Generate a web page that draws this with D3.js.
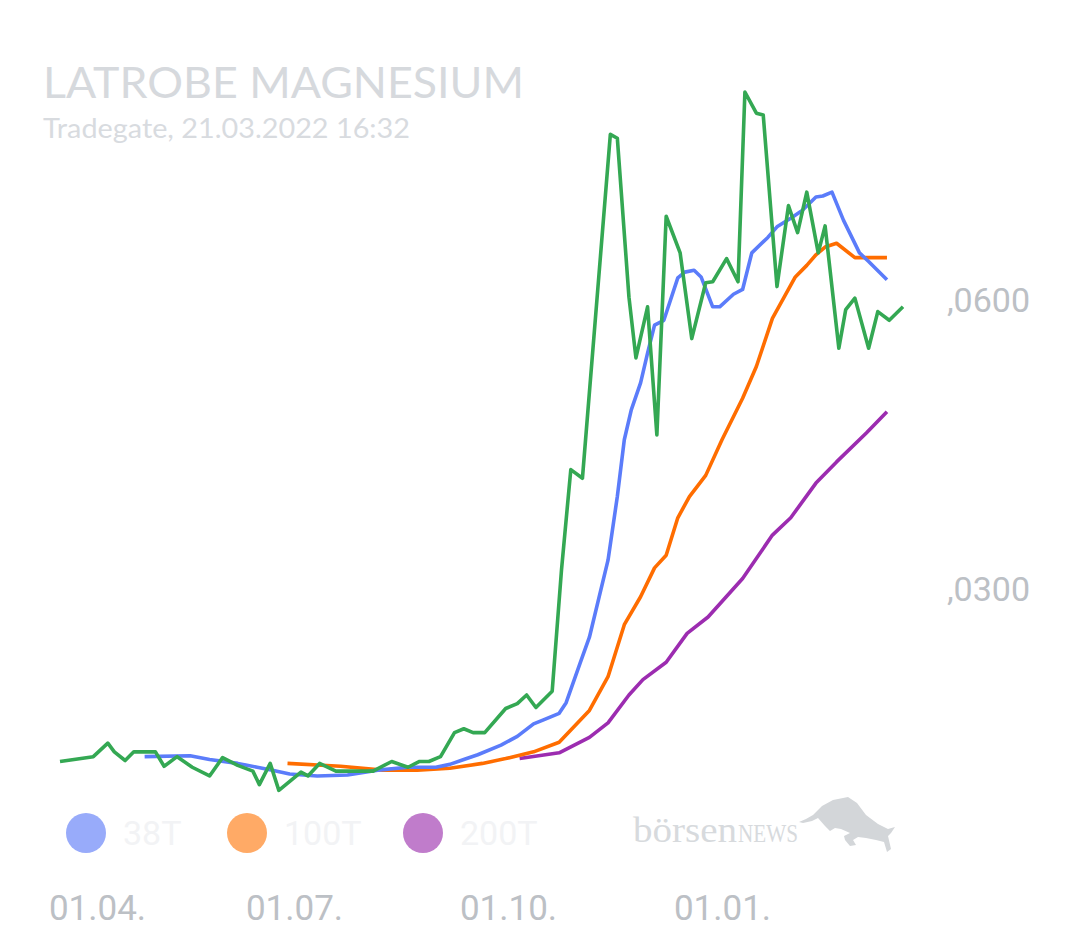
<!DOCTYPE html>
<html><head><meta charset="utf-8">
<script src="https://cdn.jsdelivr.net/npm/d3@7"></script>
<style>
html,body{margin:0;padding:0;background:#fff;}
svg{display:block;}
</style></head>
<body>
<svg id="chart" width="1080" height="945"></svg>
<script>
// ---------- DATA ----------
const titleText = "LATROBE MAGNESIUM";
const subtitleText = "Tradegate, 21.03.2022 16:32";

const priceDates = ["2021-03-22","2021-03-31","2021-04-06","2021-04-09","2021-04-14","2021-04-18","2021-04-28","2021-05-02","2021-05-08","2021-05-15","2021-05-23","2021-05-29","2021-06-05","2021-06-12","2021-06-15","2021-06-20","2021-06-24","2021-07-04","2021-07-07","2021-07-12","2021-07-19","2021-08-04","2021-08-12","2021-08-19","2021-08-24","2021-08-28","2021-09-02","2021-09-08","2021-09-12","2021-09-16","2021-09-21","2021-09-30","2021-10-05","2021-10-09","2021-10-13","2021-10-20","2021-10-24","2021-10-28","2021-11-02","2021-11-14","2021-11-17","2021-11-22","2021-11-25","2021-11-30","2021-12-04","2021-12-08","2021-12-14","2021-12-19","2021-12-25","2021-12-28","2022-01-03","2022-01-08","2022-01-11","2022-01-16","2022-01-19","2022-01-25","2022-01-30","2022-02-03","2022-02-07","2022-02-12","2022-02-15","2022-02-21","2022-02-24","2022-02-28","2022-03-06","2022-03-10","2022-03-15","2022-03-21"];
const priceValues = [0.0122,0.0127,0.0141,0.0132,0.0123,0.0132,0.0132,0.0117,0.0127,0.0116,0.0107,0.0126,0.0118,0.0112,0.0098,0.0120,0.0092,0.0111,0.0107,0.0120,0.0112,0.0112,0.0122,0.0116,0.0122,0.0122,0.0127,0.0152,0.0156,0.0152,0.0152,0.0177,0.0182,0.0191,0.0178,0.0195,0.0321,0.0425,0.0416,0.0773,0.0769,0.0604,0.0541,0.0594,0.0461,0.0688,0.0650,0.0561,0.0619,0.0620,0.0644,0.0620,0.0817,0.0795,0.0793,0.0615,0.0699,0.0671,0.0713,0.0650,0.0678,0.0551,0.0591,0.0603,0.0551,0.0589,0.0580,0.0594];

const ma38Dates = ["2021-04-23","2021-05-14","2021-05-23","2021-06-05","2021-06-14","2021-06-21","2021-06-29","2021-07-11","2021-07-24","2021-08-06","2021-08-19","2021-08-31","2021-09-06","2021-09-12","2021-09-18","2021-09-28","2021-10-05","2021-10-12","2021-10-16","2021-10-23","2021-10-26","2021-11-01","2021-11-05","2021-11-13","2021-11-17","2021-11-20","2021-11-23","2021-11-27","2021-11-30","2021-12-03","2021-12-07","2021-12-13","2021-12-16","2021-12-20","2021-12-23","2021-12-28","2021-12-31","2022-01-06","2022-01-10","2022-01-14","2022-01-21","2022-01-25","2022-01-31","2022-02-05","2022-02-11","2022-02-14","2022-02-18","2022-02-23","2022-03-02","2022-03-06","2022-03-14"];
const ma38Values = [0.0127,0.0128,0.0124,0.0120,0.0116,0.0113,0.0109,0.0107,0.0108,0.0113,0.0116,0.0116,0.0119,0.0124,0.0129,0.0139,0.0148,0.0161,0.0165,0.0172,0.0183,0.0224,0.0251,0.0331,0.0397,0.0456,0.0487,0.0515,0.0546,0.0575,0.0580,0.0624,0.0630,0.0632,0.0625,0.0594,0.0594,0.0607,0.0612,0.0650,0.0666,0.0677,0.0686,0.0694,0.0708,0.0709,0.0713,0.0684,0.0650,0.0641,0.0622];

const ma100Dates = ["2021-06-28","2021-07-21","2021-08-08","2021-08-23","2021-09-06","2021-09-20","2021-09-30","2021-10-12","2021-10-23","2021-11-05","2021-11-13","2021-11-20","2021-11-27","2021-12-03","2021-12-08","2021-12-13","2021-12-18","2021-12-25","2022-01-01","2022-01-10","2022-01-16","2022-01-23","2022-02-02","2022-02-07","2022-02-11","2022-02-15","2022-02-20","2022-02-28","2022-03-14"];
const ma100Values = [0.0120,0.0117,0.0113,0.0113,0.0115,0.0120,0.0125,0.0132,0.0142,0.0175,0.0210,0.0264,0.0293,0.0323,0.0336,0.0375,0.0397,0.0419,0.0456,0.0499,0.0532,0.0582,0.0625,0.0637,0.0648,0.0656,0.0660,0.0645,0.0645];

const ma200Dates = ["2021-10-06","2021-10-23","2021-11-05","2021-11-13","2021-11-22","2021-11-28","2021-12-08","2021-12-17","2021-12-26","2022-01-10","2022-01-23","2022-01-31","2022-02-11","2022-02-20","2022-03-05","2022-03-14"];
const ma200Values = [0.0125,0.0131,0.0147,0.0162,0.0191,0.0207,0.0225,0.0255,0.0272,0.0312,0.0357,0.0375,0.0411,0.0433,0.0463,0.0485];

const legendLabels = ["38T","100T","200T"];
const xTickDates = ["2021-04-01","2021-07-01","2021-10-01","2022-01-01"];
const yTickValues = [0.03, 0.06];
const axisStartDate = "2021-03-22";
const axisEndDate = "2022-03-21";

// ---------- LAYOUT / STYLE ----------
const lineColors = ["#5b7cfa","#ff6d00","#9c2cb0"];
const legendColors = ["#98abfa","#ffaa66","#c07ccb"];
const priceColor = "#34a853";

const parse = d3.timeParse("%Y-%m-%d");
const svg = d3.select("#chart");

const x = d3.scaleTime()
  .domain([axisStartDate, ...xTickDates, axisEndDate].map(parse))
  .range([60, 97, 294, 508, 722, 903]);
const y = d3.scaleLinear().domain([0, 0.09]).range([879, 879 - 0.09 * 9633]);

// title
svg.append("text").attr("x", 43).attr("y", 98)
  .attr("font-family", "Lato, 'Open Sans', sans-serif").attr("font-size", 43)
  .attr("fill", "#d6d9dd").attr("textLength", 481).attr("lengthAdjust", "spacingAndGlyphs")
  .text(titleText);
svg.append("text").attr("x", 43).attr("y", 138)
  .attr("font-family", "Lato, 'Open Sans', sans-serif").attr("font-size", 27)
  .attr("fill", "#d8dbdf").attr("textLength", 367).attr("lengthAdjust", "spacingAndGlyphs")
  .text(subtitleText);

// lines
const line = d3.line().x(d => x(d[0])).y(d => y(d[1]));
function zipSeries(dates, vals){ return dates.map((d,i) => [parse(d), vals[i]]); }

const series = [
  {data: zipSeries(ma200Dates, ma200Values), color: lineColors[2]},
  {data: zipSeries(ma100Dates, ma100Values), color: lineColors[1]},
  {data: zipSeries(ma38Dates, ma38Values), color: lineColors[0]},
  {data: zipSeries(priceDates, priceValues), color: priceColor}
];
svg.append("g").selectAll("path").data(series).join("path")
  .attr("d", s => line(s.data))
  .attr("fill", "none")
  .attr("stroke", s => s.color)
  .attr("stroke-width", 3.6)
  .attr("stroke-linejoin", "round");

// y axis (right)
const yAxis = d3.axisRight(y).tickValues(yTickValues).tickSize(0).tickPadding(0)
  .tickFormat(v => d3.format(".4f")(v).replace(/^0\./, ","));
const gy = svg.append("g").attr("transform", "translate(1030,0)").call(yAxis);
gy.select(".domain").remove();
gy.selectAll("text").attr("text-anchor", "end").attr("x", 0)
  .attr("font-family", "Roboto, sans-serif").attr("font-size", 34).attr("fill", "#bcc0c5");

// x axis
const xAxis = d3.axisBottom(x).tickValues(xTickDates.map(parse)).tickSize(0).tickPadding(0)
  .tickFormat(d3.timeFormat("%d.%m."));
const gx = svg.append("g").attr("transform", "translate(0,920)").call(xAxis);
gx.select(".domain").remove();
gx.selectAll("text").attr("dy", 0).attr("y", 0)
  .attr("font-family", "Roboto, sans-serif").attr("font-size", 35).attr("fill", "#bcc0c5");

// legend
const legendX = [86, 247, 423];
const lg = svg.append("g").selectAll("g").data(legendLabels).join("g")
  .attr("transform", (d,i) => `translate(${legendX[i]},833)`);
lg.append("circle").attr("r", 20).attr("fill", (d,i) => legendColors[i]);
lg.append("text").attr("x", 37).attr("y", 12)
  .attr("font-family", "Roboto, sans-serif").attr("font-size", 34)
  .attr("fill", "#f2f3f5").text(d => d);

// logo
const logo = svg.append("g");
logo.append("text").attr("x", 633).attr("y", 842)
  .attr("font-family", "'Liberation Serif', 'DejaVu Serif', serif").attr("font-size", 36)
  .attr("fill", "#d7dadd").attr("textLength", 104).attr("lengthAdjust", "spacingAndGlyphs")
  .text("börsen");
logo.append("text").attr("x", 738).attr("y", 842)
  .attr("font-family", "'Liberation Serif', 'DejaVu Serif', serif").attr("font-size", 25)
  .attr("fill", "#d7dadd").attr("textLength", 60).attr("lengthAdjust", "spacingAndGlyphs")
  .text("NEWS");
logo.append("path")
  .attr("d", "M799,822 L806,819 L813,815 L822,806 L833,800 L848,797 L857,803 L866,815 L878,824 L888,829 L895,827 L891,833 L888,836 L891,849 L887,852 L884,842 L876,840 L866,838 L858,837 L853,840 L856,845 L850,846 L845,840 L844,836 L850,833 L841,829 L835,828 L830,831 L825,826 L818,818 L812,821 L803,823 Z")
  .attr("fill", "#d3d6d9");
</script>
</body></html>
